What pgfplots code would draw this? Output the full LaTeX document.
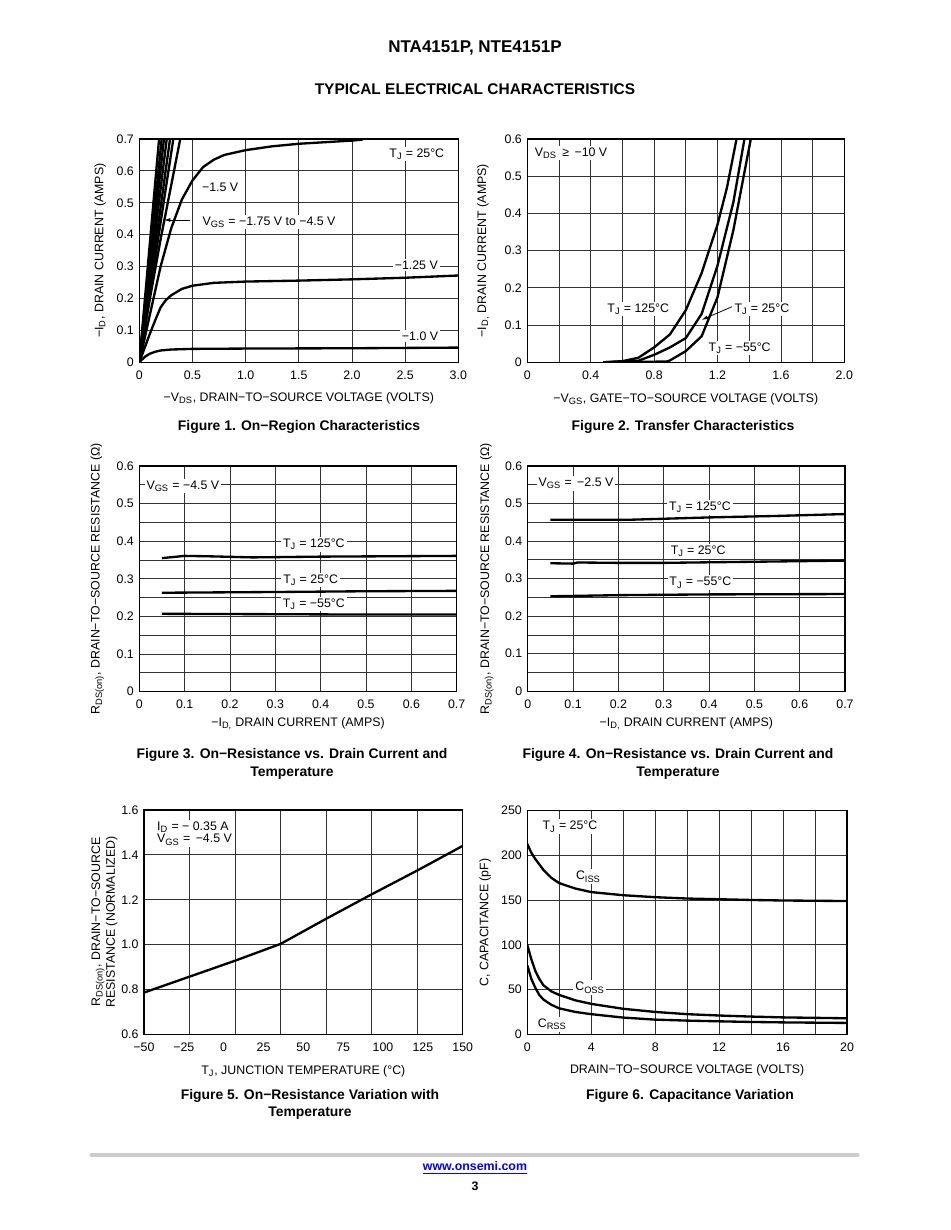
\documentclass[border=0pt]{standalone}
\usepackage{fontspec}
\setmainfont{Liberation Sans}
\usepackage{pgfplots}
\pgfplotsset{compat=1.18}
\usetikzlibrary{arrows.meta}

\newcommand{\sub}[1]{\textsubscript{#1}}
\newcommand{\eightpt}{\fontsize{8}{9.6}\selectfont}

\pgfplotsset{
  sheet/.style={
    scale only axis,
    anchor=south west,
    axis line style={line width=0.9bp},
    major tick length=0pt, minor tick length=0pt,
    grid=both,
    major grid style={line width=0.5bp, black!80},
    minor grid style={line width=0.5bp, black!80},
    tick label style={font=\eightpt},
    xticklabel style={yshift=-1.7bp, text height=5.8bp, text depth=0pt},
    label style={font=\eightpt},
    no markers,
    every axis plot post/.append style={black, line width=1.5bp, line join=round},
    clip mode=individual,
  },
}
\tikzset{note/.style={fill=white, inner sep=1.2bp, font=\eightpt}}

\begin{document}
\begin{tikzpicture}[font=\eightpt]
\begin{scope}[x=0.644211bp, y=0.644211bp]
  \fill[white] (0,0) rectangle (950,1230);
  \path[use as bounding box] (0,0) rectangle (950,1230);
  \node[anchor=base, font=\fontsize{11}{13}\bfseries\selectfont] at (475,1177) {NTA4151P, NTE4151P};
  \node[anchor=base, font=\fontsize{10}{12}\bfseries\selectfont] at (475,1135.4) {TYPICAL ELECTRICAL CHARACTERISTICS};
  \begin{scope}[every node/.style={anchor=base, font=\fontsize{9}{11}\bfseries\selectfont}]
    \node at (299,799) {Figure 1. On−Region Characteristics};
    \node at (683,799) {Figure 2. Transfer Characteristics};
    \node at (292,471) {Figure 3. On−Resistance vs. Drain Current and};
    \node at (292,453) {Temperature};
    \node at (678,471) {Figure 4. On−Resistance vs. Drain Current and};
    \node at (678,453) {Temperature};
    \node at (310,130) {Figure 5. On−Resistance Variation with};
    \node at (310,113) {Temperature};
    \node at (690,130) {Figure 6. Capacitance Variation};
  \end{scope}
  \draw[line width=2bp, gray!40, line cap=round] (91,75) -- (858,75);
  \node[anchor=base, font=\fontsize{8}{9.6}\bfseries\selectfont, text=blue] at (475,59) {\underline{www.onsemi.com}};
  \node[anchor=base, font=\fontsize{8}{9.6}\bfseries\selectfont] at (475,39) {3};
\end{scope}

% Figure 1
\begin{axis}[sheet, at={(89.739bp,558.982bp)}, width=205.50bp, height=143.85bp,
  xmin=0, xmax=3, ymin=0, ymax=0.7,
  xtick={0,0.5,1,1.5,2,2.5,3}, xticklabels={0,0.5,1.0,1.5,2.0,2.5,3.0},
  ytick={0,0.1,0.2,0.3,0.4,0.5,0.6,0.7}, yticklabels={0,0.1,0.2,0.3,0.4,0.5,0.6,0.7},
  xlabel={−V\sub{DS}, DRAIN−TO−SOURCE VOLTAGE (VOLTS)},
  ylabel={−I\sub{D}, DRAIN CURRENT (AMPS)},
  xlabel style={at={(axis description cs:0.5,-0.160)}, anchor=center},
  ylabel style={at={(axis description cs:-0.123,0.5)}, anchor=center}]
\addplot coordinates {(0,0) (0.03,0.010) (0.06,0.019) (0.1,0.027) (0.15,0.033) (0.2,0.037) (0.3,0.040) (0.5,0.042) (1.0,0.043) (2.0,0.044) (3.0,0.046)};
\addplot coordinates {(0,0) (0.05,0.045) (0.1,0.09) (0.15,0.132) (0.2,0.172) (0.25,0.195) (0.3,0.21) (0.4,0.23) (0.5,0.24) (0.7,0.249) (1.0,0.253) (1.5,0.256) (2.0,0.26) (2.5,0.265) (3.0,0.272)};
\addplot coordinates {(0,0) (0.1,0.15) (0.2,0.30) (0.3,0.42) (0.4,0.51) (0.5,0.57) (0.6,0.612) (0.7,0.635) (0.8,0.65) (1.0,0.665) (1.25,0.677) (1.5,0.685) (1.75,0.69) (2.0,0.695) (2.1,0.698)};
\addplot coordinates {(0,0) (0.1,0.2) (0.2,0.385) (0.3,0.555) (0.385,0.7)};
\addplot[line width=1.2bp] coordinates {(0,0) (0.32,0.7)};
\addplot[line width=1.2bp] coordinates {(0,0) (0.289,0.7)};
\addplot[line width=1.2bp] coordinates {(0,0) (0.258,0.7)};
\addplot[line width=1.2bp] coordinates {(0,0) (0.232,0.7)};
\addplot[line width=1.2bp] coordinates {(0,0) (0.21,0.7)};
\addplot[line width=1.2bp] coordinates {(0,0) (0.186,0.7)};
\node[note] at (axis cs:2.61,0.653) {T\sub{J} = 25°C};
\node[note] at (axis cs:0.76,0.55) {−1.5 V};
\node[note] at (axis cs:1.22,0.44) {V\sub{GS} = −1.75 V to −4.5 V};
\draw[line width=0.5bp, -{Latex[length=4bp,width=2.5bp]}] (axis cs:0.478,0.446) -- (axis cs:0.233,0.446);
\node[note] at (axis cs:2.605,0.305) {−1.25 V};
\node[note] at (axis cs:2.64,0.083) {−1.0 V};
\end{axis}

% Figure 2
\begin{axis}[sheet, at={(339.692bp,558.982bp)}, width=204.22bp, height=143.85bp,
  xmin=0, xmax=2, ymin=0, ymax=0.6,
  xtick={0,0.4,0.8,1.2,1.6,2.0}, xticklabels={0,0.4,0.8,1.2,1.6,2.0},
  minor xtick={0.2,0.6,1.0,1.4,1.8},
  ytick={0,0.1,0.2,0.3,0.4,0.5,0.6}, yticklabels={0,0.1,0.2,0.3,0.4,0.5,0.6},
  xlabel={−V\sub{GS}, GATE−TO−SOURCE VOLTAGE (VOLTS)},
  ylabel={−I\sub{D,} DRAIN CURRENT (AMPS)},
  xlabel style={at={(axis description cs:0.5,-0.164)}, anchor=center},
  ylabel style={at={(axis description cs:-0.139,0.5)}, anchor=center}]
\addplot coordinates {(0.48,0) (0.6,0.003) (0.7,0.012) (0.8,0.04) (0.9,0.075) (1.0,0.14) (1.1,0.24) (1.2,0.37) (1.26,0.47) (1.32,0.6)};
\addplot coordinates {(0.48,0) (0.7,0.004) (0.8,0.02) (0.9,0.04) (1.0,0.065) (1.1,0.13) (1.2,0.26) (1.3,0.43) (1.37,0.6)};
\addplot coordinates {(0.48,0) (0.88,0.002) (0.9,0.005) (1.0,0.03) (1.1,0.07) (1.2,0.175) (1.3,0.355) (1.41,0.6)};
\node[note] at (axis cs:0.276,0.562) {V\sub{DS} \,≥\, −10 V};
\node[note] at (axis cs:0.70,0.143) {T\sub{J} = 125°C};
\node[note] at (axis cs:1.48,0.143) {T\sub{J} = 25°C};
\draw[line width=0.5bp, -{Latex[length=4bp,width=2.5bp]}] (axis cs:1.29,0.149) -- (axis cs:1.10,0.114);
\node[note] at (axis cs:1.34,0.038) {T\sub{J} = −55°C};
\end{axis}

% Figure 3
\begin{axis}[sheet, at={(89.739bp,346.779bp)}, width=204.47bp, height=145.40bp,
  xmin=0, xmax=0.7, ymin=0, ymax=0.6,
  xtick={0,0.1,0.2,0.3,0.4,0.5,0.6,0.7}, xticklabels={0,0.1,0.2,0.3,0.4,0.5,0.6,0.7},
  ytick={0,0.1,0.2,0.3,0.4,0.5,0.6}, yticklabels={0,0.1,0.2,0.3,0.4,0.5,0.6},
  minor ytick={0.05,0.15,0.25,0.35,0.45,0.55},
  xlabel={−I\sub{D,} DRAIN CURRENT (AMPS)},
  ylabel={R\sub{DS(on)}, DRAIN−TO−SOURCE RESISTANCE (Ω)},
  xlabel style={at={(axis description cs:0.5,-0.143)}, anchor=center},
  ylabel style={at={(axis description cs:-0.1325,0.5)}, anchor=center}]
\addplot coordinates {(0.05,0.355) (0.075,0.358) (0.1,0.361) (0.15,0.36) (0.25,0.357) (0.4,0.359) (0.55,0.36) (0.7,0.361)};
\addplot coordinates {(0.05,0.263) (0.3,0.265) (0.5,0.267) (0.7,0.268)};
\addplot coordinates {(0.05,0.207) (0.3,0.206) (0.5,0.205) (0.7,0.205)};
\node[note] at (axis cs:0.096,0.547) {V\sub{GS} = −4.5 V};
\node[note] at (axis cs:0.385,0.392) {T\sub{J} = 125°C};
\node[note] at (axis cs:0.378,0.297) {T\sub{J} = 25°C};
\node[note] at (axis cs:0.385,0.233) {T\sub{J} = −55°C};
\end{axis}

% Figure 4
\begin{axis}[sheet, at={(339.950bp,347.037bp)}, width=204.41bp, height=145.14bp,
  xmin=0, xmax=0.7, ymin=0, ymax=0.6,
  xtick={0,0.1,0.2,0.3,0.4,0.5,0.6,0.7}, xticklabels={0,0.1,0.2,0.3,0.4,0.5,0.6,0.7},
  ytick={0,0.1,0.2,0.3,0.4,0.5,0.6}, yticklabels={0,0.1,0.2,0.3,0.4,0.5,0.6},
  minor ytick={0.05,0.15,0.25,0.35,0.45,0.55},
  xlabel={−I\sub{D,} DRAIN CURRENT (AMPS)},
  ylabel={R\sub{DS(on)}, DRAIN−TO−SOURCE RESISTANCE (Ω)},
  xlabel style={at={(axis description cs:0.5,-0.145)}, anchor=center},
  ylabel style={at={(axis description cs:-0.129,0.5)}, anchor=center}]
\addplot coordinates {(0.05,0.457) (0.15,0.457) (0.23,0.457) (0.4,0.463) (0.55,0.467) (0.7,0.472)};
\addplot coordinates {(0.05,0.341) (0.1,0.340) (0.11,0.343) (0.2,0.342) (0.3,0.342) (0.5,0.345) (0.7,0.348)};
\addplot coordinates {(0.05,0.253) (0.2,0.256) (0.4,0.258) (0.7,0.259)};
\node[note] at (axis cs:0.1065,0.554) {V\sub{GS} = \,−2.5 V};
\node[note] at (axis cs:0.38,0.49) {T\sub{J} = 125°C};
\node[note] at (axis cs:0.376,0.372) {T\sub{J} = 25°C};
\node[note] at (axis cs:0.381,0.289) {T\sub{J} = −55°C};
\end{axis}

% Figure 5
\begin{axis}[sheet, at={(92.766bp,126.072bp)}, width=205.31bp, height=144.50bp,
  xmin=-50, xmax=150, ymin=0.6, ymax=1.6,
  xtick={-50,-25,0,25,50,75,100,125,150}, xticklabels={−50,−25,0,25,50,75,100,125,150},
  xmajorgrids=false, xminorgrids=true,
  minor xtick={-21.4286,7.1429,35.7143,64.2857,92.8571,121.4286},
  ytick={0.6,0.8,1.0,1.2,1.4,1.6}, yticklabels={0.6,0.8,1.0,1.2,1.4,1.6},
  xlabel={T\sub{J}, JUNCTION TEMPERATURE (°C)},
  ylabel={R\sub{DS(on)}, DRAIN−TO−SOURCE\\RESISTANCE (NORMALIZED)},
  xlabel style={at={(axis description cs:0.5,-0.164)}, anchor=center},
  ylabel style={at={(axis description cs:-0.124,0.5)}, anchor=center, align=center}]
\addplot coordinates {(-50,0.786) (-21.43,0.857) (7.14,0.928) (35.71,1.003) (64.29,1.115) (92.86,1.224) (121.43,1.33) (150,1.44)};
\node[note, anchor=west] at (axis cs:-43.1,1.524) {I\sub{D} = − 0.35 A};
\node[note, anchor=west] at (axis cs:-43.1,1.467) {V\sub{GS} = \,−4.5 V};
\end{axis}

% Figure 6
\begin{axis}[sheet, at={(339.692bp,126.072bp)}, width=205.95bp, height=144.04bp,
  xmin=0, xmax=20, ymin=0, ymax=250,
  xtick={0,4,8,12,16,20}, xticklabels={0,4,8,12,16,20},
  minor xtick={2,6,10,14,18},
  ytick={0,50,100,150,200,250}, yticklabels={0,50,100,150,200,250},
  xlabel={DRAIN−TO−SOURCE VOLTAGE (VOLTS)},
  ylabel={C, CAPACITANCE (pF)},
  xlabel style={at={(axis description cs:0.5,-0.160)}, anchor=center},
  ylabel style={at={(axis description cs:-0.132,0.5)}, anchor=center}]
\addplot coordinates {(0,213) (0.25,203) (0.5,196) (1.0,184) (1.5,175) (2,169) (3,163) (4,159) (6,155.5) (8,153.3) (10,151.8) (12,151) (14,150.2) (16,149.6) (20,149)};
\addplot coordinates {(0,100) (0.25,84) (0.5,71) (0.75,62) (1.0,55) (1.5,48) (2,44) (3,38) (4,34) (6,28.5) (8,25) (10,22.5) (12,21) (14,19.8) (16,18.9) (20,17.9)};
\addplot coordinates {(0,77) (0.25,62) (0.5,52) (0.75,44) (1.0,39) (1.5,33) (2,29) (3,25) (4,22.5) (6,18.7) (8,16.4) (10,15.3) (12,14.5) (14,13.8) (16,13.3) (20,12.7)};
\node[note] at (axis cs:2.67,232.1) {T\sub{J} = 25°C};
\node[note] at (axis cs:3.82,176.2) {C\sub{ISS}};
\node[note] at (axis cs:3.92,52.1) {C\sub{OSS}};
\node[note] at (axis cs:1.56,11.2) {C\sub{RSS}};
\end{axis}
\end{tikzpicture}
\end{document}
